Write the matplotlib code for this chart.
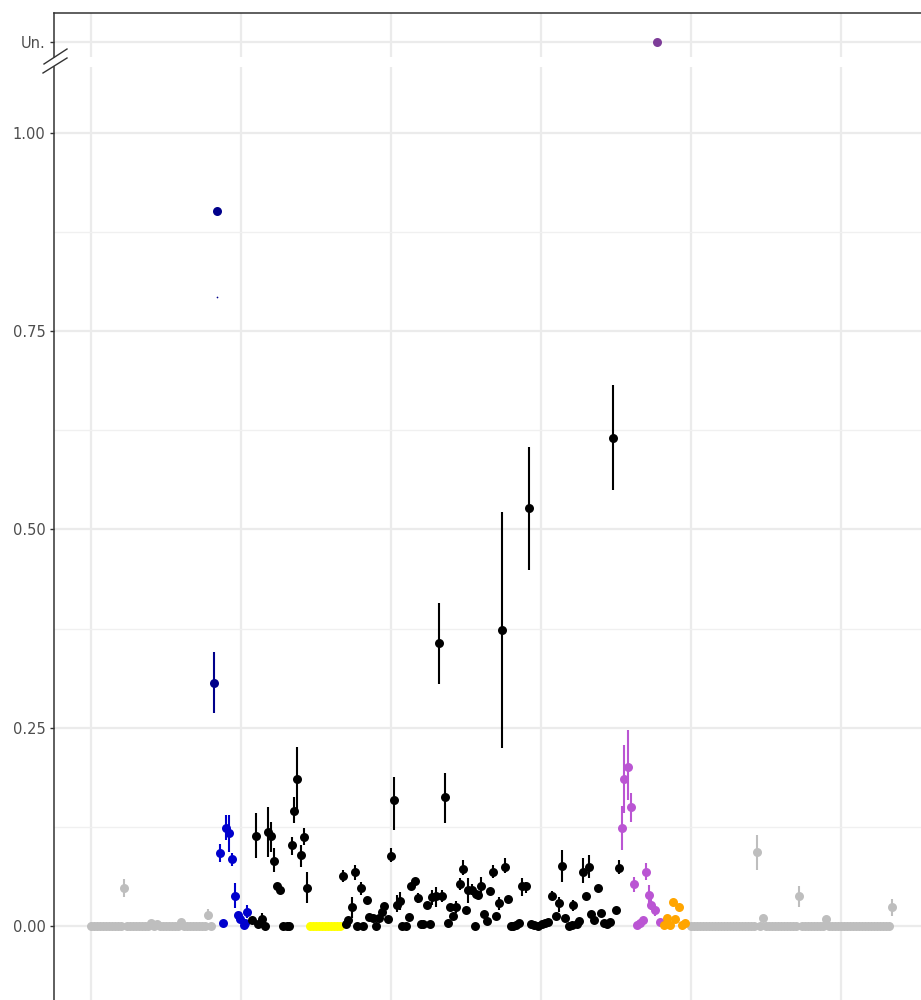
import matplotlib
matplotlib.use("Agg")
import matplotlib.pyplot as plt
from matplotlib.lines import Line2D
import numpy as np

# ---------------- data ----------------
# grey (left block)
grey_left_x = list(range(0, 41))
grey_left_y = [0, 0, 0, 0, 0, 0, 0, 0, 0, 0,
               0, 0.048, 0, 0, 0, 0, 0, 0, 0, 0,
               0.004, 0, 0.002, 0, 0, 0, 0, 0, 0, 0,
               0.005, 0, 0, 0, 0, 0, 0, 0, 0, 0.014,
               0]
grey_left_eb_x = [11, 39]
grey_left_eb_lo = [0.037, 0.007]
grey_left_eb_hi = [0.059, 0.021]

# navy
navy_x = [41, 42]
navy_y = [0.307, 0.902]
navy_eb_x = [41]
navy_eb_lo = [0.269]
navy_eb_hi = [0.345]
navy_tick_x = [42]
navy_tick_y = [0.793]

# blue
blue_x = [43, 44, 45, 46, 47, 48, 49, 49.7, 51, 51.3, 52]
blue_y = [0.092, 0.004, 0.124, 0.117, 0.084, 0.038, 0.014, 0.009, 0.001, 0.004, 0.018]
blue_eb_x = [43, 45, 46, 47, 48, 52]
blue_eb_lo = [0.081, 0.108, 0.093, 0.076, 0.023, 0.010]
blue_eb_hi = [0.103, 0.140, 0.140, 0.092, 0.054, 0.026]

# black (first block)
black1_x = [53.7, 55, 55.7, 57, 58, 59, 60, 61, 62, 63, 64, 65.3, 66, 67, 67.7, 68.7, 70, 71, 72]
black1_y = [0.008, 0.113, 0.003, 0.009, 0, 0.119, 0.113, 0.082, 0.051, 0.045, 0, 0, 0,
            0.102, 0.145, 0.185, 0.090, 0.112, 0.048]
black1_eb_x = [55, 57, 59, 60, 61, 67, 67.7, 68.7, 70, 71, 72]
black1_eb_lo = [0.086, 0.001, 0.087, 0.093, 0.068, 0.090, 0.130, 0.146, 0.074, 0.102, 0.029]
black1_eb_hi = [0.142, 0.016, 0.150, 0.131, 0.098, 0.112, 0.163, 0.226, 0.102, 0.124, 0.068]

# yellow
yellow_x = [73, 74, 75, 76, 77, 78, 79, 80, 81, 82, 83]
yellow_y = [0, 0, 0, 0, 0, 0, 0, 0, 0, 0, 0]

# black (main block)
black2_x = [84, 85, 85.7, 87, 88, 88.7, 90, 90.7, 92, 92.7, 94, 95, 96, 97, 97.7, 99,
            100, 101, 102, 103, 103.7, 105, 106, 106.7, 108, 109, 110, 110.7, 112, 113,
            113.7, 115, 116, 117, 118, 119, 119.7, 120.7, 121.7, 123, 124, 125, 125.7,
            127, 128, 128.3, 129, 130, 131, 132, 133, 134, 135, 136, 137, 138, 139, 140,
            140.7, 141.7, 142.7, 143.7, 145, 146, 146.7, 147.7, 149, 150.3, 151.3, 152.3,
            153.7, 155, 156, 157, 158, 159.3, 160.3, 160.7, 162, 162.7, 164, 165, 166,
            166.7, 167.7, 169, 170, 171, 172, 173, 174, 175, 176]
black2_y = [0.063, 0.003, 0.008, 0.024, 0.068, 0, 0.048, 0, 0.033, 0.011, 0.010, 0, 0.010,
            0.018, 0.025, 0.009,
            0.088, 0.159, 0.026, 0.032, 0, 0, 0.011, 0.051, 0.057, 0.035, 0.002, 0.003,
            0.026, 0.003,
            0.037, 0.038, 0.357, 0.038, 0.163, 0.004, 0.024, 0.013, 0.024, 0.053, 0.072,
            0.020, 0.045,
            0.045, 0, 0.040, 0.039, 0.050, 0.015, 0.006, 0.044, 0.068, 0.012, 0.029, 0.373,
            0.075, 0.034, 0,
            0, 0.001, 0.004, 0.050, 0.050, 0.527, 0.003, 0.001, 0, 0.003, 0.004, 0.005,
            0.038, 0.013, 0.029, 0.076, 0.010, 0, 0.001, 0.026, 0.002, 0.006, 0.068, 0.038,
            0.075,
            0.015, 0.008, 0.048, 0.016, 0.004, 0.002, 0.005, 0.615, 0.020, 0.073]
black2_eb_x = [84, 87, 88, 90, 100, 101, 102, 103, 109, 113.7, 115, 116, 117, 118, 121.7,
               123, 124, 125.7, 127, 130, 134, 136, 137, 138, 143.7, 145, 146, 153.7, 156,
               157, 160.7, 164, 166, 174, 176]
black2_eb_lo = [0.056, 0.010, 0.058, 0.039, 0.081, 0.121, 0.018, 0.020, 0.029, 0.027, 0.024,
                0.305, 0.030, 0.130, 0.017, 0.046, 0.064, 0.029, 0.039, 0.042, 0.060, 0.020,
                0.224, 0.067, 0.038, 0.042, 0.449, 0.033, 0.018, 0.056, 0.019, 0.054, 0.061,
                0.550, 0.065]
black2_eb_hi = [0.071, 0.037, 0.077, 0.056, 0.098, 0.188, 0.039, 0.043, 0.042, 0.045, 0.049,
                0.407, 0.045, 0.193, 0.031, 0.061, 0.083, 0.060, 0.053, 0.062, 0.077, 0.037,
                0.522, 0.086, 0.061, 0.056, 0.604, 0.044, 0.036, 0.096, 0.033, 0.086, 0.090,
                0.682, 0.083]

# purple
purple_x = [177, 177.7, 179, 180, 181, 182, 183, 184, 185, 186, 186.7, 188, 189.7]
purple_y = [0.124, 0.185, 0.200, 0.150, 0.053, 0.001, 0.004, 0.008, 0.068, 0.039, 0.026,
            0.020, 0.005]
purple_eb_x = [177, 177.7, 179, 180, 181, 185, 186, 186.7, 188]
purple_eb_lo = [0.096, 0.142, 0.159, 0.131, 0.043, 0.058, 0.029, 0.020, 0.013]
purple_eb_hi = [0.151, 0.228, 0.247, 0.168, 0.062, 0.079, 0.052, 0.036, 0.027]

# orange
orange_x = [191, 192, 193, 194, 194.7, 196, 197, 198]
orange_y = [0.001, 0.010, 0.001, 0.030, 0.009, 0.024, 0.001, 0.004]

# grey (right block)
grey_right_x = list(range(200, 268))
grey_right_y = [0, 0, 0, 0, 0, 0, 0, 0, 0, 0,
                0, 0, 0, 0, 0, 0, 0, 0, 0, 0,
                0, 0, 0.093, 0, 0.010, 0, 0, 0, 0, 0,
                0, 0, 0, 0, 0, 0, 0.038, 0, 0, 0,
                0, 0, 0, 0, 0, 0.009, 0, 0, 0, 0,
                0, 0, 0, 0, 0, 0, 0, 0, 0, 0,
                0, 0, 0, 0, 0, 0, 0, 0.024]
grey_right_eb_x = [222, 236, 267]
grey_right_eb_lo = [0.071, 0.024, 0.012]
grey_right_eb_hi = [0.115, 0.050, 0.034]

# unassigned panel
un_x = [188.7]
un_label = "Un."

y_ticks = [0.0, 0.25, 0.5, 0.75, 1.0]
y_ticklabels = ["0.00", "0.25", "0.50", "0.75", "1.00"]
x_breaks = [0, 50, 100, 150, 200, 250]

# ---------------- figure ----------------
W, H = 921, 1000
fig = plt.figure(figsize=(W / 100, H / 100), dpi=100)

def fx(px):
    return px / W

def fy(py):
    return 1 - py / H

left_px = 54
ax = fig.add_axes([fx(left_px), 0, 1 - fx(left_px), (H - 67) / H])
ax_top = fig.add_axes([fx(left_px), fy(57), 1 - fx(left_px), (57 - 13) / H])

xlim = (-12.33, 276.67)
ax.set_xlim(*xlim)
ax.set_ylim(-0.0933, 1.0832)
ax_top.set_xlim(*xlim)
ax_top.set_ylim(-15, 29)

grid_col = "#EBEBEB"
for a in (ax, ax_top):
    a.set_facecolor("white")
    a.set_xticks(x_breaks)
    a.tick_params(axis="x", length=0, labelbottom=False)
    a.grid(True, axis="x", color=grid_col, lw=1.6, zorder=0)
    a.set_axisbelow(True)
    for s in ("right", "bottom"):
        a.spines[s].set_visible(False)

ax.spines["top"].set_visible(False)
ax.spines["left"].set_color("#333333")
ax.spines["left"].set_linewidth(1.1)
ax_top.spines["left"].set_color("#333333")
ax_top.spines["top"].set_color("#333333")
ax_top.spines["left"].set_linewidth(1.1)
ax_top.spines["top"].set_linewidth(1.1)

lab_size = 10.5
ax.set_yticks(y_ticks)
ax.set_yticklabels(y_ticklabels)
ax.set_yticks([0.125, 0.375, 0.625, 0.875], minor=True)
ax.grid(True, axis="y", which="major", color=grid_col, lw=1.6, zorder=0)
ax.grid(True, axis="y", which="minor", color="#F0F0F0", lw=1.0, zorder=0)
ax.tick_params(axis="y", which="minor", length=0)
ax.tick_params(axis="y", which="major", length=3.2, width=1.0, color="#333333",
               labelcolor="#4D4D4D", labelsize=lab_size, pad=3)

ax_top.set_yticks([0])
ax_top.set_yticklabels([un_label])
ax_top.grid(True, axis="y", color=grid_col, lw=1.6, zorder=0)
ax_top.tick_params(axis="y", length=3.2, width=1.0, color="#333333",
                   labelcolor="#4D4D4D", labelsize=lab_size, pad=3)

ms = 42
elw = 1.5

def draw(a, x, y, col, ebx=None, eblo=None, ebhi=None, z=3):
    if ebx is not None:
        a.vlines(ebx, eblo, ebhi, color=col, lw=elw, zorder=z)
    a.scatter(x, y, s=ms, color=col, linewidths=0, zorder=z)

grey = "#BEBEBE"
draw(ax, grey_left_x, grey_left_y, grey, grey_left_eb_x, grey_left_eb_lo, grey_left_eb_hi)
draw(ax, grey_right_x, grey_right_y, grey, grey_right_eb_x, grey_right_eb_lo, grey_right_eb_hi)
draw(ax, navy_x, navy_y, "#00008B", navy_eb_x, navy_eb_lo, navy_eb_hi)
ax.scatter(navy_tick_x, navy_tick_y, s=1.5, color="#00008B", linewidths=0, zorder=3)
draw(ax, blue_x, blue_y, "#0000CD", blue_eb_x, blue_eb_lo, blue_eb_hi)
draw(ax, black1_x, black1_y, "black", black1_eb_x, black1_eb_lo, black1_eb_hi)
draw(ax, yellow_x, yellow_y, "#FFFF00")
draw(ax, black2_x, black2_y, "black", black2_eb_x, black2_eb_lo, black2_eb_hi)
draw(ax, purple_x, purple_y, "#BA55D3", purple_eb_x, purple_eb_lo, purple_eb_hi)
draw(ax, orange_x, orange_y, "#FFA500")

ax_top.scatter(un_x, [0], s=ms, color="#7D3C98", linewidths=0, zorder=3)

# axis break marks
for (x0, y0, x1, y1) in [(44, 64, 67, 49), (43, 73, 67, 58)]:
    fig.add_artist(Line2D([fx(x0), fx(x1)], [fy(y0), fy(y1)], transform=fig.transFigure,
                          color="#333333", lw=1.0))

fig.savefig("out.png", dpi=100)
